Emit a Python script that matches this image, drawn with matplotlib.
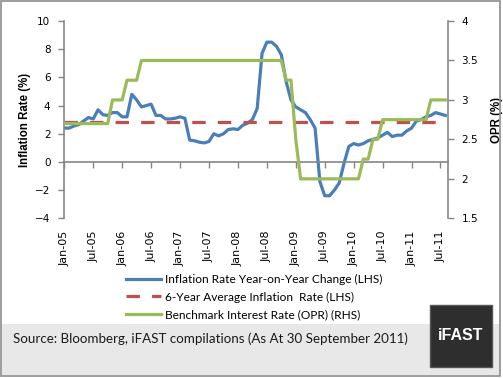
import numpy as np
import matplotlib.pyplot as plt
from matplotlib.patches import Rectangle
from matplotlib.lines import Line2D

# monthly data, Jan-05 .. Aug-11
tick_labels = ['Jan-05', 'Jul-05', 'Jan-06', 'Jul-06', 'Jan-07', 'Jul-07', 'Jan-08',
               'Jul-08', 'Jan-09', 'Jul-09', 'Jan-10', 'Jul-10', 'Jan-11', 'Jul-11']

inflation = [2.4, 2.4, 2.55, 2.65, 2.9, 3.15, 3.05, 3.7, 3.35, 3.3, 3.5, 3.5,
             3.2, 3.2, 4.8, 4.4, 3.9, 4.0, 4.1, 3.3, 3.3, 3.05, 3.05, 3.1,
             3.2, 3.1, 1.55, 1.5, 1.4, 1.35, 1.45, 2.0, 1.85, 2.0, 2.3, 2.35,
             2.3, 2.6, 2.75, 3.0, 3.8, 7.7, 8.5, 8.5, 8.2, 7.6, 5.7, 4.4,
             3.9, 3.7, 3.5, 3.0, 2.4, -1.4, -2.4, -2.4, -2.0, -1.5, -0.1, 1.1,
             1.3, 1.2, 1.3, 1.5, 1.6, 1.7, 1.9, 2.1, 1.8, 1.9, 1.9, 2.2,
             2.4, 2.9, 3.0, 3.2, 3.3, 3.5, 3.4, 3.3]

avg_inflation = [2.85] * len(inflation)

opr = ([2.7] * 10 + [3.0] * 3 + [3.25] * 3 + [3.5] * 30 + [3.25] * 2 + [2.5]
       + [2.0] * 13 + [2.25] * 2 + [2.5] * 2 + [2.75] * 10 + [3.0] * 4)

months = np.arange(len(inflation))
tick_pos = months[::6]

blue = '#4a7ebb'
red = '#c0504d'
green = '#9bbb59'
grey = '#868686'

fig = plt.figure(figsize=(5.03, 3.78), dpi=100)

# source bar, logo and outer frame
fig.patches.append(Rectangle((2 / 503, 3 / 378), 498 / 503, 51 / 378, transform=fig.transFigure,
                             facecolor='#e8e8e8', edgecolor='none', zorder=0))
fig.patches.append(Rectangle((430 / 503, 11 / 378), 62 / 503, 62 / 378, transform=fig.transFigure,
                             facecolor='#2e2e2e', edgecolor='#555555', lw=1, zorder=1))
fig.patches.append(Rectangle((1 / 503, 2 / 378), 499 / 503, 375 / 378, transform=fig.transFigure,
                             fill=False, edgecolor='#8c8c8c', lw=1.2, zorder=2))
fig.text(13 / 503, 1 - 339 / 378, 'Source: Bloomberg, iFAST compilations (As At 30 September 2011)',
         fontsize=9.6, family='Lato', va='center', ha='left', color='#1a1a1a')
fig.text(461 / 503, 1 - 336 / 378, 'iFAST', fontsize=11.5, family='Liberation Sans',
         weight='bold', color='white', va='center', ha='center')

ax = fig.add_axes([64.3 / 503, 1 - 218.3 / 378, 383.4 / 503, 197.3 / 378])
ax.plot(months, inflation, color=blue, lw=2.3, solid_joinstyle='round')
ax.plot(months, avg_inflation, color=red, lw=2.3, dashes=(4.2, 3.8))
ax.set_xlim(0, 79.5)
ax.set_ylim(-4, 10)
ax.set_yticks(np.arange(-4, 11, 2))
ax.tick_params(axis='y', direction='out', length=4, width=1, color=grey, labelsize=7.5, pad=6)
ax.set_xticks(tick_pos)
ax.tick_params(axis='x', direction='out', length=4, width=1, color=grey, labelbottom=False)
ax.spines['bottom'].set_position(('data', 0))
for s in ['top', 'right']:
    ax.spines[s].set_visible(False)
for s in ['left', 'bottom']:
    ax.spines[s].set_color(grey)
    ax.spines[s].set_linewidth(1.2)
ax.set_ylabel('Inflation Rate (%)', family='Liberation Sans', weight='bold', fontsize=8.3, labelpad=3)

sec = ax.secondary_xaxis('bottom')
sec.set_xticks(tick_pos, tick_labels, rotation=90)
sec.spines['bottom'].set_visible(False)
sec.tick_params(length=0, pad=9, labelsize=8)

ax2 = ax.twinx()
ax2.plot(months, opr, color=green, lw=2.3)
ax2.set_ylim(1.5, 4)
ax2.set_yticks([1.5, 2, 2.5, 3, 3.5, 4], ['1.5', '2', '2.5', '3', '3.5', '4'])
ax2.tick_params(axis='y', direction='out', length=4, width=1, color=grey, labelsize=7.5, pad=6)
for s in ['top', 'left', 'bottom']:
    ax2.spines[s].set_visible(False)
ax2.spines['right'].set_color(grey)
ax2.spines['right'].set_linewidth(1.2)
ax2.set_ylabel('OPR (%)', family='Liberation Sans', weight='bold', fontsize=8.3, labelpad=9)

handles = [Line2D([], [], color=blue, lw=2.3),
           Line2D([], [], color=red, lw=2.3, dashes=(4.2, 3.8)),
           Line2D([], [], color=green, lw=2.3)]
labels = ['Inflation Rate Year-on-Year Change (LHS)',
          '6-Year Average Inflation  Rate (LHS)',
          'Benchmark Interest Rate (OPR) (RHS)']
fig.legend(handles, labels, loc='upper left', bbox_to_anchor=(126 / 503, 1 - 274 / 378),
           frameon=False, borderpad=0, borderaxespad=0, handlelength=2.9, handletextpad=0.4,
           labelspacing=0.55, prop={'family': 'Lato', 'size': 8.6})

fig.savefig('out.png', dpi=100)
